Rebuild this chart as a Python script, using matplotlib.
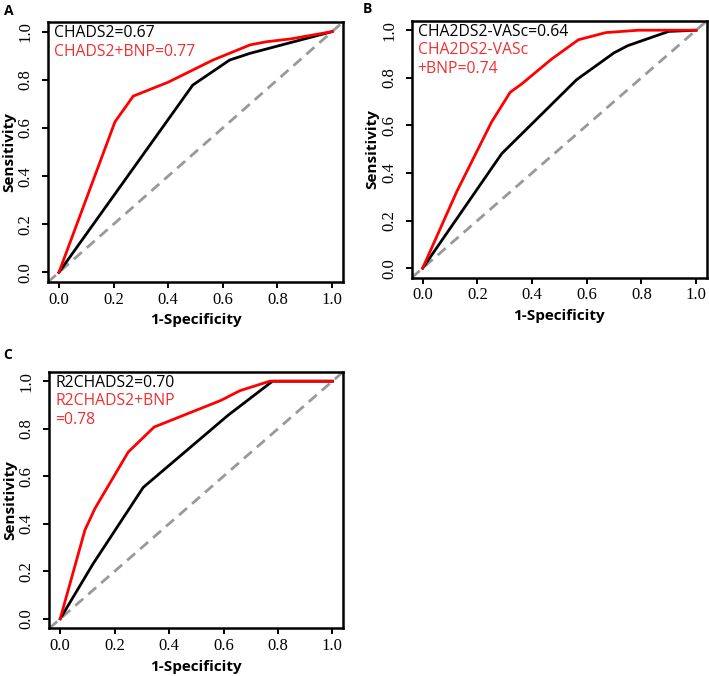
import matplotlib.pyplot as plt
from matplotlib.transforms import offset_copy

# ROC points (x = 1-specificity, y = sensitivity)
a_black_x = [0, 0.49, 0.625, 0.70, 0.80, 1.0]
a_black_y = [0, 0.778, 0.882, 0.91, 0.94, 1.0]
a_red_x = [0, 0.205, 0.272, 0.40, 0.564, 0.70, 0.76, 0.85, 1.0]
a_red_y = [0, 0.625, 0.732, 0.79, 0.882, 0.945, 0.958, 0.97, 1.0]

b_black_x = [0, 0.289, 0.563, 0.70, 0.75, 0.90, 1.0]
b_black_y = [0, 0.481, 0.792, 0.905, 0.935, 0.995, 1.0]
b_red_x = [0, 0.124, 0.252, 0.32, 0.362, 0.472, 0.57, 0.67, 0.79, 1.0]
b_red_y = [0, 0.32, 0.614, 0.739, 0.774, 0.879, 0.96, 0.99, 1.0, 1.0]

c_black_x = [0, 0.12, 0.305, 0.616, 0.689, 0.78, 1.0]
c_black_y = [0, 0.23, 0.553, 0.856, 0.92, 1.0, 1.0]
c_red_x = [0, 0.091, 0.128, 0.25, 0.345, 0.59, 0.66, 0.77, 1.0]
c_red_y = [0, 0.374, 0.465, 0.702, 0.807, 0.919, 0.96, 1.0, 1.0]

W, H = 709, 676

# letter, axes box in pixels (left, top, right, bottom), letter position (x, baseline y)
panels = [
    ("A", (48, 22, 343, 282), (4, 15), a_black_x, a_black_y, a_red_x, a_red_y,
     "CHADS2=0.67", ["CHADS2+BNP=0.77"]),
    ("B", (411.7, 20.7, 707, 277.7), (363, 13), b_black_x, b_black_y, b_red_x, b_red_y,
     "CHA2DS2-VASc=0.64", ["CHA2DS2-VASc", "+BNP=0.74"]),
    ("C", (49.3, 371.7, 343.3, 628.3), (3, 359), c_black_x, c_black_y, c_red_x, c_red_y,
     "R2CHADS2=0.70", ["R2CHADS2+BNP", "=0.78"]),
]

fig = plt.figure(figsize=(W / 100, H / 100), dpi=100)
ticks = [0, 0.2, 0.4, 0.6, 0.8, 1.0]
tick_labels = ["0.0", "0.2", "0.4", "0.6", "0.8", "1.0"]

for letter, box, lpos, bx, by, rx, ry, txt_black, txt_red in panels:
    l, t, r, b = box
    ax = fig.add_axes([l / W, 1 - b / H, (r - l) / W, (b - t) / H])
    ax.set_xlim(-0.04, 1.04)
    ax.set_ylim(-0.04, 1.04)
    ax.plot([-0.04, 1.04], [-0.04, 1.04], color="#999999", lw=2.0,
            dashes=(3.8, 2.4), zorder=1)
    ax.plot(bx, by, color="black", lw=2.0, zorder=2)
    ax.plot(rx, ry, color="#ff0000", lw=2.0, zorder=3)
    ax.set_xticks(ticks)
    ax.set_yticks(ticks)
    ax.set_xticklabels(tick_labels, family="Liberation Serif", fontsize=12)
    ax.set_yticklabels(tick_labels, family="Liberation Serif", fontsize=12,
                       rotation=90, va="center")
    ax.tick_params(direction="out", length=4.5, width=1.4)
    ax.tick_params(axis="x", pad=2.5)
    ax.tick_params(axis="y", pad=6)
    for s in ax.spines.values():
        s.set_linewidth(1.8)
    ax.set_xlabel("1-Specificity", family="Open Sans", fontweight="bold",
                  fontsize=11, labelpad=4)
    ax.set_ylabel("Sensitivity", family="Open Sans", fontweight="bold",
                  fontsize=11, labelpad=1)

    # annotation lines, offsets in pixels from the top-left corner of the box
    tr = offset_copy(ax.transAxes, fig=fig, x=6, y=-15.4, units="dots")
    ax.text(0, 1, txt_black, transform=tr, family="Open Sans", fontsize=11.3,
            color="black", va="baseline", ha="left")
    for i, line in enumerate(txt_red):
        tr = offset_copy(ax.transAxes, fig=fig, x=6, y=-33.7 - 18.3 * i, units="dots")
        ax.text(0, 1, line, transform=tr, family="Open Sans", fontsize=11.3,
                color="#f03030", va="baseline", ha="left")

    fig.text(lpos[0] / W, 1 - lpos[1] / H, letter, family="Open Sans",
             fontweight="bold", fontsize=10, va="baseline", ha="left")

fig.savefig("out.png", dpi=100)
